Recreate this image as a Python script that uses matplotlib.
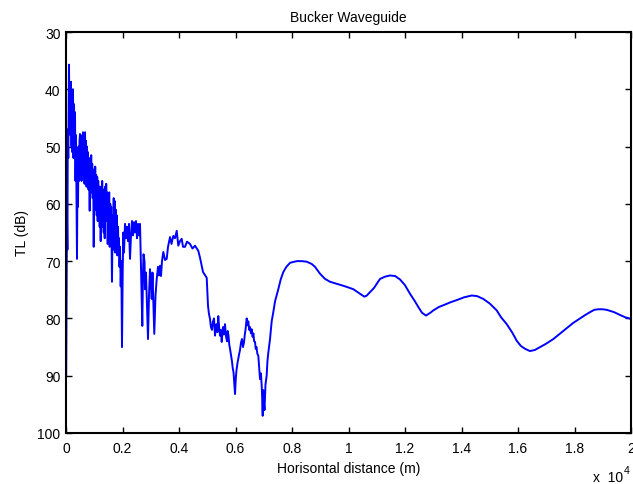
import matplotlib
matplotlib.use("Agg")
import matplotlib.pyplot as plt

plt.rcParams['font.family'] = ['Liberation Sans', 'DejaVu Sans']

title = "Bucker Waveguide"
xlabel = "Horisontal distance (m)"
ylabel = "TL (dB)"
xtick_vals = [0, 2000, 4000, 6000, 8000, 10000, 12000, 14000, 16000, 18000, 20000]
xtick_labels = ["0", "0.2", "0.4", "0.6", "0.8", "1", "1.2", "1.4", "1.6", "1.8", "2"]
ytick_vals = [30, 40, 50, 60, 70, 80, 90, 100]

# range (m)
dist_m = [
    7, 21, 35, 50, 64, 81, 106, 124, 142, 159, 177, 195, 212, 230, 248, 265, 283, 301, 319, 336,
    354, 372, 389, 407, 425, 443, 460, 478, 496, 513, 531, 549, 566, 584, 602, 619, 637, 655, 673, 690,
    708, 726, 743, 761, 779, 797, 814, 839, 857, 874, 892, 910, 927, 945, 963, 981, 998, 1016, 1034, 1051,
    1069, 1087, 1104, 1122, 1140, 1158, 1175, 1193, 1211, 1228, 1246, 1264, 1281, 1299, 1317, 1335, 1352, 1370, 1388, 1405,
    1423, 1441, 1458, 1476, 1494, 1512, 1529, 1547, 1565, 1582, 1600, 1628, 1653, 1671, 1689, 1706, 1724, 1742, 1759, 1777,
    1795, 1816, 1841, 1858, 1876, 1894, 1912, 1936, 1958, 1982,
    2007, 2028, 2053, 2089, 2124, 2159, 2195, 2230, 2248, 2266, 2301, 2336, 2372, 2407, 2443, 2478, 2514, 2549, 2584, 2620,
    2655, 2701, 2726, 2744, 2779, 2797, 2832, 2867, 2903, 2938, 2974, 3009, 3034, 3062, 3098, 3125, 3168, 3211, 3257, 3292,
    3328, 3363, 3398, 3444, 3505, 3565, 3611, 3682, 3735, 3798, 3859, 3919, 3975, 4036, 4096, 4142, 4213, 4283, 4390, 4478,
    4567, 4683, 4744, 4850, 4981, 5027, 5060, 5098, 5130, 5168, 5200, 5239, 5275, 5300, 5328, 5360, 5391, 5420, 5452, 5480,
    5512, 5535, 5558, 5590, 5629, 5660, 5699, 5725, 5753, 5780, 5806, 5840, 5876, 5900, 5930, 5960, 5983, 6010, 6036, 6070,
    6099, 6130, 6160, 6195, 6230, 6265, 6301, 6330, 6354, 6375, 6397, 6425, 6453, 6485, 6514, 6545, 6573, 6605, 6633, 6660,
    6691, 6715, 6743, 6775, 6807, 6835, 6868, 6900, 6928, 6945, 6963, 6978, 6992, 7010, 7027, 7045, 7062, 7080, 7103, 7130,
    7161, 7190, 7222, 7281, 7338, 7400, 7515, 7600, 7692, 7800, 7930, 8000, 8167, 8350, 8521, 8700, 8815, 8992,
    9169, 9346, 9550, 9816, 10000, 10170, 10408, 10560, 10650, 10762, 10900, 11116, 11300, 11470, 11650, 11824, 12000, 12178, 12350, 12471,
    12600, 12744, 12900, 13002, 13200, 13356, 13600, 13831, 14100, 14362, 14550, 14772, 15000, 15247, 15400, 15601, 15800, 15955, 16100, 16249,
    16426, 16600, 16780, 17000, 17250, 17500, 17725, 17950, 18196, 18380, 18550, 18700, 18843, 19000, 19141, 19400, 19612, 19800, 20000,
]

# transmission loss (dB)
tl_db = [
    90, 75, 62, 68, 47, 52, 35.7, 45, 39, 48, 38.7, 50, 41, 51, 40, 52, 42.6, 49, 44, 56,
    48, 58, 69.6, 55, 60.5, 50, 56, 49, 47.8, 54, 49, 56, 48, 53, 47.5, 55, 48.5, 56.5, 47.5, 52,
    49, 57, 50, 54, 51, 57.5, 52, 61.2, 52.5, 57, 51.5, 58, 53, 59, 54, 67.5, 56, 60, 53.5, 61,
    55, 62, 55.3, 63, 56, 61, 57, 64, 57, 66.5, 58, 63, 56, 64, 57.5, 65, 58, 66, 57, 62,
    56.5, 63, 58, 67, 59, 64, 58, 67.5, 60, 65, 60.5, 73.6, 62, 68, 59, 66, 59.5, 68.5, 61, 67,
    62, 69, 64, 68, 66, 71, 67.5, 74.4, 70, 85,
    72, 65, 68.5, 63.5, 66, 64, 66.5, 63.5, 67, 69.6, 65.5, 63, 65.5, 63.2, 65, 63, 66, 63.5, 65.5, 63.5,
    71, 81.3, 72, 68.8, 70, 74.9, 72, 78, 83.6, 76, 71.4, 74, 76.6, 72, 78, 82.7, 76, 73.1, 71, 72.5,
    70.8, 72.6, 70, 68.4, 69.8, 69.6, 67.5, 65.8, 67, 65.6, 66, 64.7, 67.3, 66.5, 66.1, 67.5, 67.5, 66.6, 67, 67.8,
    67.3, 68.2, 69.4, 71.9, 72.9, 77.8, 79.2, 80.1, 81.5, 82, 80.6, 80, 83, 81.8, 81, 82.4, 79.6, 81.5, 83, 82,
    84.1, 82.6, 81.5, 82.8, 81, 83, 84, 82.2, 83, 84.6, 85.3, 86.4, 87.5, 88.6, 89.4, 91.5, 93.2, 90.5, 89, 87.8,
    87, 86.2, 85.5, 84.2, 83.6, 85, 84.2, 82.8, 82, 81, 80, 81.2, 80.5, 82, 81.5, 82.6, 81.9, 83.2, 82.6, 84,
    84.1, 85.3, 85, 86.2, 86.5, 88.5, 90.6, 89.6, 91.8, 94, 97, 92.5, 93, 95, 96, 93.5, 91.5, 90.8, 90, 87.5,
    86, 84.8, 83.6, 80.5, 78.9, 77, 74.9, 73.2, 71.9, 71, 70.3, 70.2, 70, 70, 70.1, 70.5, 71, 72.2,
    73.1, 73.6, 73.9, 74.3, 74.6, 74.9, 75.7, 76.2, 76, 75.4, 74.7, 73.1, 72.7, 72.5, 72.6, 73.2, 74.2, 75.7, 77, 78,
    79, 79.5, 79, 78.6, 78, 77.7, 77.2, 76.8, 76.3, 76, 76.1, 76.6, 77.4, 78.6, 79.8, 81, 82.5, 83.9, 84.8, 85.3,
    85.7, 85.5, 85, 84.4, 83.6, 82.6, 81.7, 80.8, 80, 79.4, 78.9, 78.5, 78.4, 78.4, 78.5, 78.9, 79.4, 79.8, 80.1,
]

fig = plt.figure(figsize=(6.33, 4.85), dpi=100)
ax = fig.add_axes([66 / 633, 51 / 485, 565 / 633, 401 / 485])
ax.plot(dist_m, tl_db, color=(0, 0, 1), linewidth=1.4)

ax.set_xlim(0, 20000)
ax.set_ylim(100, 30)
ax.set_xticks(xtick_vals)
ax.set_xticklabels(xtick_labels)
ax.set_yticks(ytick_vals)
ax.tick_params(direction='in', length=4, width=1, top=True, right=True,
               labelsize=10, colors='black')
ax.tick_params(axis='x', pad=6)
ax.tick_params(axis='y', pad=4)
for s in ax.spines.values():
    s.set_linewidth(1.5)
    s.set_color('black')

ax.set_title(title, fontsize=10, pad=8)
ax.set_xlabel(xlabel, fontsize=10, labelpad=4)
ax.set_ylabel(ylabel, fontsize=10, labelpad=6)
fig.text(593 / 633, 1 - 478 / 485, "x  10", fontsize=10, va='center', ha='left')
fig.text(624 / 633, 1 - 471 / 485, "4", fontsize=7.5, va='center', ha='left')

fig.savefig("out.png", dpi=100)
